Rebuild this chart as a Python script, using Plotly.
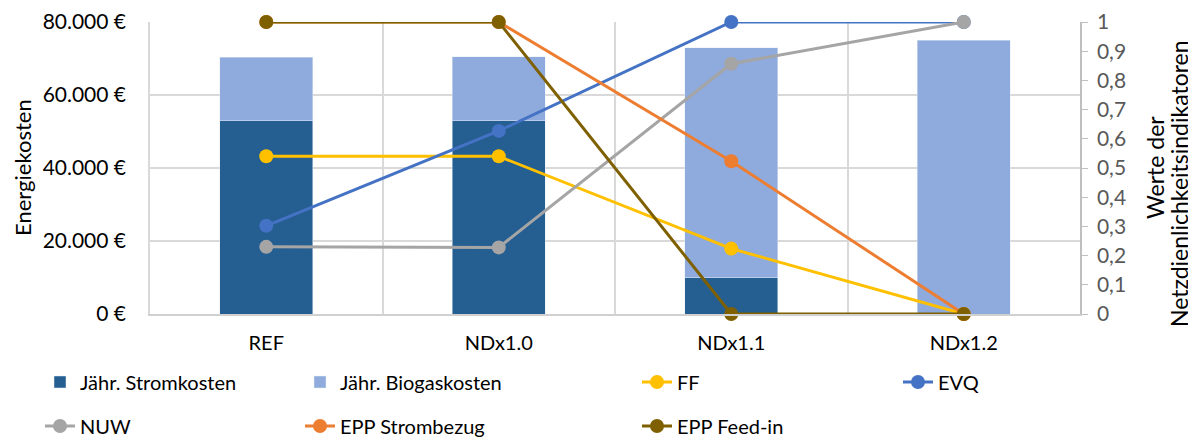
import plotly.graph_objects as go
from plotly.subplots import make_subplots

categories = ["REF", "NDx1.0", "NDx1.1", "NDx1.2"]
strom = [52900, 52900, 10000, 0]
biogas = [17500, 17600, 62900, 75000]
ff = [0.54, 0.54, 0.224, 0]
evq = [0.302, 0.627, 1, 1]
nuw = [0.23, 0.228, 0.857, 1]
epp_bezug = [1, 1, 0.523, 0]
epp_feedin = [1, 1, 0, 0]
left_tickvals = [0, 20000, 40000, 60000, 80000]
left_ticktext = ["0 €", "20.000 €", "40.000 €", "60.000 €", "80.000 €"]
right_tickvals = [0, 0.1, 0.2, 0.3, 0.4, 0.5, 0.6, 0.7, 0.8, 0.9, 1]
right_ticktext = ["0", "0,1", "0,2", "0,3", "0,4", "0,5", "0,6", "0,7", "0,8", "0,9", "1"]

FONT = "Lato"
FS = 20
OFF = 8  # page body margin
W, H = 1196 - OFF, 439 - OFF
# plot area in page pixels
PL, PR, PT, PB = 150, 1080, 22, 314
L, R, T, B = PL - OFF, PR - OFF, PT - OFF, PB - OFF

def px_x(px):
    return (px - PL) / (PR - PL)

def px_y(py):
    return (PB - py) / (PB - PT)

xpos = list(range(len(categories)))

fig = make_subplots(specs=[[{"secondary_y": True}]])

fig.add_trace(go.Bar(x=xpos, y=strom, name="Jähr. Stromkosten", marker_color="#255E91",
                     width=0.4, legend="legend"), secondary_y=False)
fig.add_trace(go.Bar(x=xpos, y=biogas, name="Jähr. Biogaskosten", marker_color="#8FAADC",
                     width=0.4, legend="legend2"), secondary_y=False)

lines = [
    ("FF", ff, "#FFC000", "legend3"),
    ("EVQ", evq, "#4472C4", "legend4"),
    ("NUW", nuw, "#A5A5A5", "legend5"),
    ("EPP Strombezug", epp_bezug, "#ED7D31", "legend6"),
    ("EPP Feed-in", epp_feedin, "#7F6000", "legend7"),
]
for name, vals, col, lg in lines:
    fig.add_trace(go.Scatter(x=xpos, y=vals, name=name, mode="lines+markers",
                             line=dict(color=col, width=3),
                             marker=dict(color=col, size=14),
                             cliponaxis=False, legend=lg), secondary_y=True)

legend_pos = {
    "legend": (80, 382), "legend2": (340, 382), "legend3": (677, 382), "legend4": (938, 382),
    "legend5": (80, 426), "legend6": (340, 426), "legend7": (677, 426),
}
leg_layout = {}
for k, (tx, ty) in legend_pos.items():
    leg_layout[k] = dict(x=(tx - 40 - OFF) / W, y=1 - (ty - OFF) / H,
                         xref="container", yref="container",
                         xanchor="left", yanchor="middle",
                         orientation="h", bgcolor="rgba(0,0,0,0)",
                         font=dict(family=FONT, size=FS, color="#000000"))

fig.update_layout(
    width=W, height=H,
    margin=dict(l=L, r=W - R, t=T, b=H - B, autoexpand=False),
    plot_bgcolor="white", paper_bgcolor="white",
    barmode="stack",
    separators=",.",
    font=dict(family=FONT, size=FS, color="#000000"),
    showlegend=True,
    **leg_layout,
)

fig.update_xaxes(
    domain=[0, 1],
    range=[-0.5, 3.5], tickvals=xpos, ticktext=categories, automargin=False,
    showgrid=False, zeroline=False,
    showline=True, linecolor="#d0d0d0", linewidth=2,
    ticks="outside", ticklen=10, tickcolor="rgba(0,0,0,0)",
    tickfont=dict(family=FONT, size=FS, color="#000000"),
    minor=dict(tick0=0.5, dtick=1, showgrid=True, gridcolor="#d9d9d9", gridwidth=1.5, ticks=""),
)
fig.update_yaxes(
    range=[0, 80000], tickvals=left_tickvals, ticktext=left_ticktext, automargin=False,
    showgrid=True, gridcolor="#d9d9d9", gridwidth=1.5, zeroline=False,
    showline=True, linecolor="#d9d9d9", linewidth=1.5,
    ticks="outside", ticklen=18, tickcolor="rgba(0,0,0,0)",
    tickfont=dict(family=FONT, size=21, color="#000000"),
    secondary_y=False,
)
fig.update_yaxes(
    range=[0, 1], tickvals=right_tickvals, ticktext=right_ticktext, automargin=False,
    showgrid=False, zeroline=False,
    showline=True, linecolor="#bfbfbf", linewidth=1.5,
    ticks="outside", ticklen=6, tickcolor="#bfbfbf", ticklabelstandoff=5,
    tickfont=dict(family=FONT, size=21, color="#595959"),
    secondary_y=True,
)

fig.add_annotation(text="Energiekosten", textangle=-90, xref="paper", yref="paper",
                   x=px_x(22), y=px_y(168), xanchor="center", yanchor="middle",
                   showarrow=False, font=dict(family=FONT, size=22, color="#000000"))
fig.add_annotation(text="Werte der", textangle=-90,
                   xref="paper", yref="paper",
                   x=px_x(1155), y=px_y(168), xanchor="center", yanchor="middle",
                   showarrow=False, font=dict(family=FONT, size=23, color="#000000"))
fig.add_annotation(text="Netzdienlichkeitsindikatoren", textangle=-90,
                   xref="paper", yref="paper",
                   x=px_x(1179), y=px_y(184), xanchor="center", yanchor="middle",
                   showarrow=False, font=dict(family=FONT, size=23, color="#000000"))

fig.write_html("out.html")
